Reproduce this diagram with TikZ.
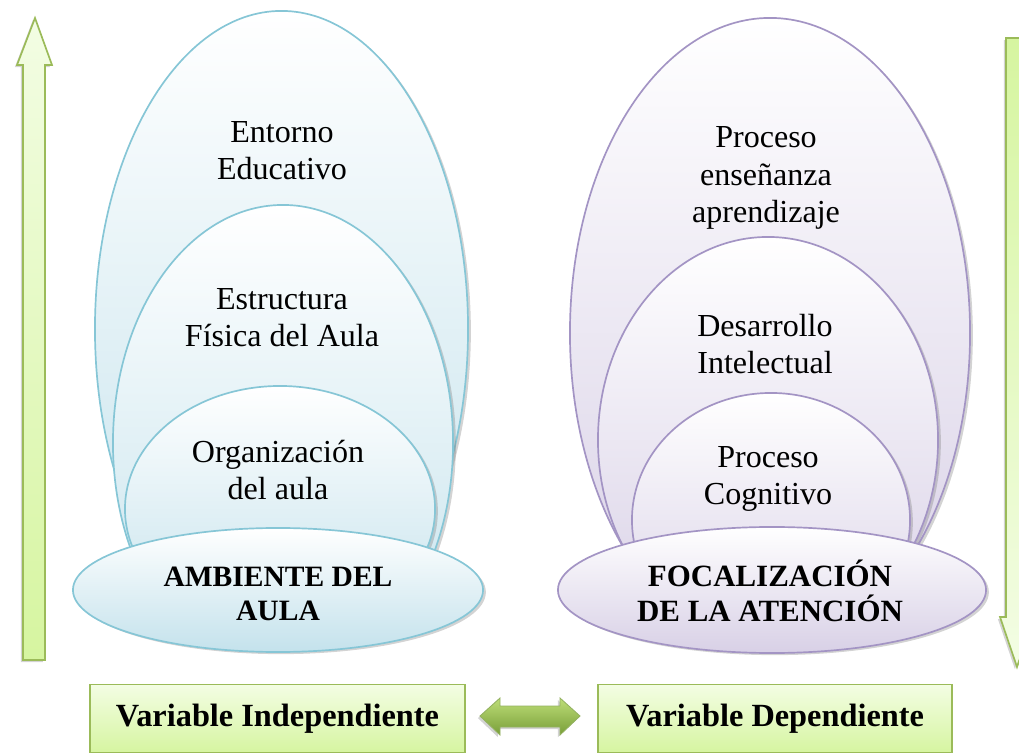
\documentclass[tikz,border=0pt]{standalone}
\usepackage{fontspec}
\setmainfont{Liberation Serif}
\usepackage{xcolor}
\usetikzlibrary{shadows,shapes.geometric}

\definecolor{blueline}{RGB}{134,198,214}
\definecolor{bluefill}{RGB}{196,226,236}
\definecolor{purpleline}{RGB}{163,148,196}
\definecolor{purplefill}{RGB}{216,208,230}
\definecolor{greenline}{RGB}{155,187,89}
\definecolor{greenlight}{RGB}{243,253,228}
\definecolor{greenfill}{RGB}{214,245,160}
\definecolor{greenmid}{RGB}{190,222,120}
\definecolor{greendark}{RGB}{120,158,56}

\begin{document}
\begin{tikzpicture}[x=0.025cm, y=-0.025cm,
  txt/.style={align=center, font=\fontsize{22.8pt}{26.5pt}\selectfont},
  boldtxt/.style={align=center, font=\fontsize{22pt}{24.5pt}\selectfont\bfseries},
  oval/.style={ellipse, inner sep=0pt, line width=1.2pt,
    drop shadow={shadow xshift=2pt, shadow yshift=-1.5pt, opacity=0.35}},
  blueoval/.style={oval, draw=blueline, top color=white, bottom color=bluefill},
  purpleoval/.style={oval, draw=purpleline, top color=white, bottom color=purplefill},
  greenbox/.style={rectangle, draw=greenline, line width=1.2pt, top color=greenlight,
    bottom color=greenfill, minimum height=1.7cm,
    font=\fontsize{23pt}{26pt}\selectfont\bfseries},
  blockarrow/.style={draw=greenline, line width=1.2pt,
    drop shadow={shadow xshift=-1.5pt, shadow yshift=-1.5pt, opacity=0.35}}]

  \useasboundingbox (0,0) rectangle (1019,753);
  \clip (0,0) rectangle (1019,753);

  % arrows at the sides
  \path[blockarrow, top color=greenlight, bottom color=greenfill]
    (23,660) -- (23,65) -- (17,65) -- (35,18) -- (52,65) -- (45,65) -- (45,660) -- cycle;
  \path[blockarrow, top color=greenfill, bottom color=greenlight]
    (1006,38) -- (1006,617) -- (1000,617) -- (1017,667) -- (1034,617) -- (1028,617) -- (1028,38) -- cycle;

  % nested ovals, cut off under the base ovals
  \begin{scope}
    \clip (0,0) rectangle (1019,595);
    \node[blueoval, minimum width=9.325cm, minimum height=15.9cm] (entorno) at (281.5,329) {};
    \node[blueoval, minimum width=8.5cm, minimum height=11.9cm] (estructura) at (283,443) {};
    \node[blueoval, minimum width=7.75cm, minimum height=6.15cm] (organizacion) at (280,509) {};

    \node[purpleoval, minimum width=10cm, minimum height=15.75cm] (proceso) at (770,333) {};
    \node[purpleoval, minimum width=8.5cm, minimum height=10.15cm] (desarrollo) at (768,440) {};
    \node[purpleoval, minimum width=6.95cm, minimum height=6.35cm] (cognitivo) at (771,520) {};
  \end{scope}

  % base ovals
  \node[blueoval, minimum width=10.25cm, minimum height=3.1cm] (ambiente) at (278,590) {};
  \node[purpleoval, minimum width=10.7cm, minimum height=3.15cm] (focalizacion) at (772,590) {};

  \node[txt] (entornoT) at (282,151) {Entorno\\Educativo};
  \node[txt] (estructuraT) at (282,318) {Estructura\\Física del Aula};
  \node[txt] (organizacionT) at (278,470) {Organización\\del aula};
  \node[boldtxt, font=\fontsize{21pt}{24.5pt}\selectfont\bfseries] (ambienteT) at (278,594) {AMBIENTE DEL\\AULA};

  \node[txt] (procesoT) at (766,178) {Proceso\\enseñanza\\aprendizaje};
  \node[txt] (desarrolloT) at (765,344) {Desarrollo\\Intelectual};
  \node[txt] (cognitivoT) at (768,479) {Proceso\\Cognitivo};
  \node[boldtxt] (focalizacionT) at (770,591) {FOCALIZACIÓN\\DE LA ATENCIÓN};

  % variables
  \node[greenbox, minimum width=9.375cm] (indep) at (277.5,718.5) {Variable Independiente};
  \node[greenbox, minimum width=8.85cm] (dep) at (775,718.5) {Variable Dependiente};

  \path[blockarrow, draw=greendark!80, line width=0.6pt, top color=greenmid, bottom color=greendark]
    (480,716) -- (500,698) -- (500,706) -- (560,706) -- (560,698) -- (580,716)
    -- (560,735) -- (560,727) -- (500,727) -- (500,735) -- cycle;
\end{tikzpicture}
\end{document}
